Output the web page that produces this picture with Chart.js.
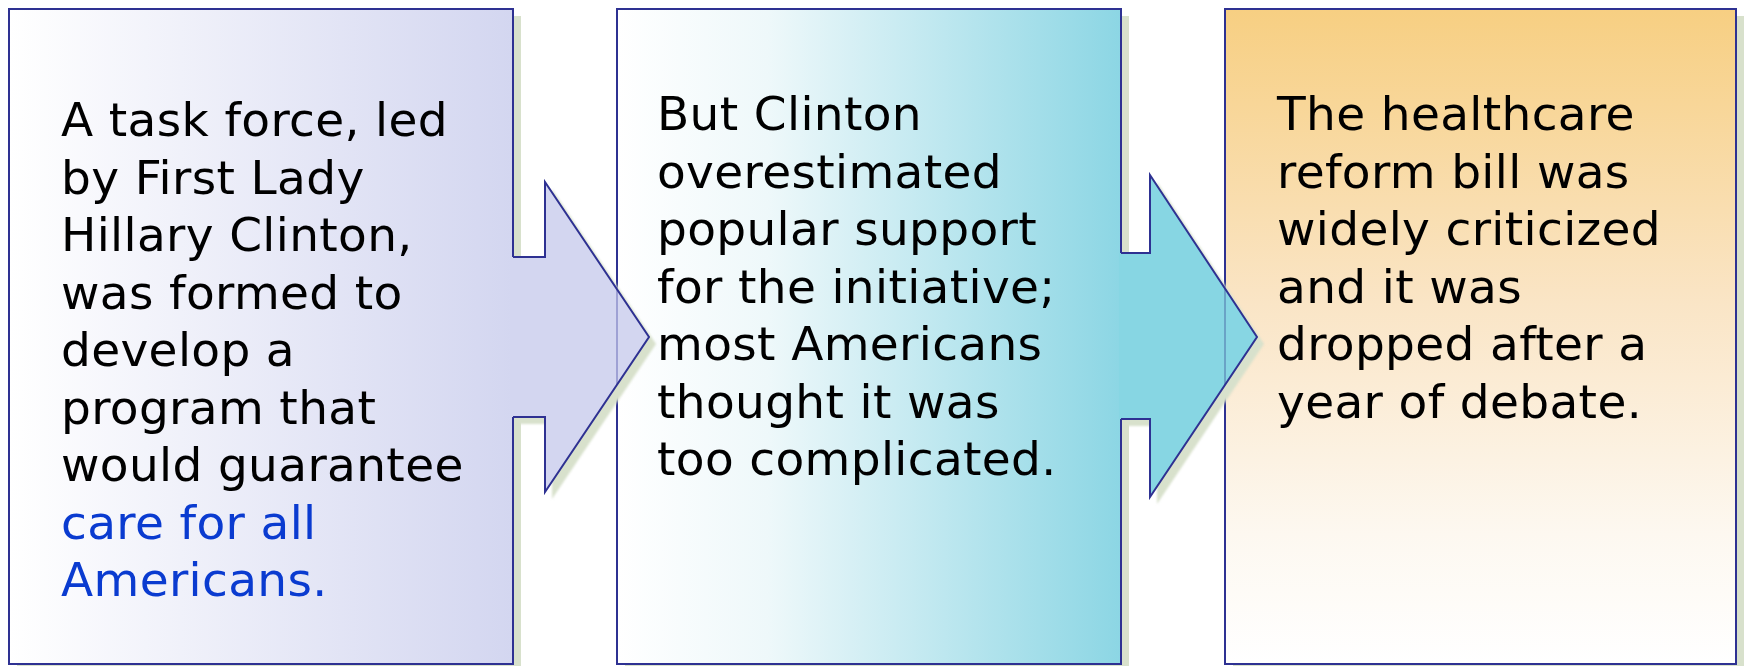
<!DOCTYPE html>
<html>
<head>
<meta charset="utf-8">
<script src="https://cdn.jsdelivr.net/npm/chart.js@4/dist/chart.umd.min.js"></script>
<style>
  html, body { margin: 0; padding: 0; background: #ffffff; }
  #wrap { width: 1745px; height: 666px; }
</style>
</head>
<body>
<div id="wrap"><canvas id="c" width="1745" height="666"></canvas></div>
<script>
// ---- Content (the "data" of this diagram) ----
const panelNames = ["Task force", "Overestimated support", "Bill dropped"];
const panel1Lines = ["A task force, led", "by First Lady", "Hillary Clinton,", "was formed to", "develop a", "program that", "would guarantee", "care for all", "Americans."];
const panel2Lines = ["But Clinton", "overestimated", "popular support", "for the initiative;", "most Americans", "thought it was", "too complicated."];
const panel3Lines = ["The healthcare", "reform bill was", "widely criticized", "and it was", "dropped after a", "year of debate."];
const panel1HighlightLines = [7, 8];

// ---- Layout (positions / sizes in diagram units = canvas pixels) ----
const layout = {
  width: 1745, height: 666,
  boxes: [
    { x0: 9, x1: 513, y0: 9, y1: 664, textX: 61, textY: 136 },
    { x0: 617, x1: 1121, y0: 9, y1: 664, textX: 657, textY: 130 },
    { x0: 1225, x1: 1736, y0: 9, y1: 664, textX: 1277, textY: 130 }
  ],
  arrows: [
    { base: 513, notch: 545, tip: 649, tipY: 337, headTop: 182, headBot: 492, shaftTop: 257, shaftBot: 417, under: 617 },
    { base: 1121, notch: 1150, tip: 1257, tipY: 337, headTop: 175, headBot: 497, shaftTop: 253, shaftBot: 419, under: 1225 }
  ],
  lineHeight: 57.5,
  font: '47px "DejaVu Sans"',
  letterSpacing: '0.35px',
  shadowDx: 8, shadowDy: 7
};

const styles = {
  border: '#2e3192',
  shadow: '#d8e1cc',
  text: '#000000',
  highlight: '#0a3bd0',
  arrowFill: ['#d3d6f0', '#87d6e3'],
  underLine: ['#9ea1d4', '#6aa3c6']
};

const panels = [panel1Lines, panel2Lines, panel3Lines];

function gradFor(ctx, i, X, Y, b) {
  let g;
  if (i === 0) {
    g = ctx.createLinearGradient(X(b.x0), 0, X(b.x1), 0);
    g.addColorStop(0, '#ffffff');
    g.addColorStop(1, '#d3d6f0');
  } else if (i === 1) {
    g = ctx.createLinearGradient(X(b.x0), 0, X(b.x1), 0);
    g.addColorStop(0, '#ffffff');
    g.addColorStop(0.3, '#eef8fa');
    g.addColorStop(1, '#8cd6e4');
  } else {
    g = ctx.createLinearGradient(0, Y(b.y0), 0, Y(b.y1));
    g.addColorStop(0, '#f7cf82');
    g.addColorStop(0.45, '#fae5c6');
    g.addColorStop(0.8, '#fdf8f0');
    g.addColorStop(1, '#ffffff');
  }
  return g;
}

function arrowPts(a, X, Y, dx, dy) {
  dx = dx || 0; dy = dy || 0;
  return [
    [X(a.base - 2) + dx, Y(a.shaftTop) + dy],
    [X(a.notch) + dx, Y(a.shaftTop) + dy],
    [X(a.notch) + dx, Y(a.headTop) + dy],
    [X(a.tip) + dx, Y(a.tipY) + dy],
    [X(a.notch) + dx, Y(a.headBot) + dy],
    [X(a.notch) + dx, Y(a.shaftBot) + dy],
    [X(a.base - 2) + dx, Y(a.shaftBot) + dy]
  ];
}

const diagramPlugin = {
  id: 'diagram',
  afterDraw(chart) {
    const ctx = chart.ctx;
    const xs = chart.scales.x, ys = chart.scales.y;
    const X = v => xs.getPixelForValue(v);
    const Y = v => ys.getPixelForValue(v);
    ctx.save();

    // box shadows
    ctx.fillStyle = styles.shadow;
    layout.boxes.forEach(b => {
      ctx.fillRect(X(b.x0) + layout.shadowDx, Y(b.y0) + layout.shadowDy, X(b.x1) - X(b.x0), Y(b.y1) - Y(b.y0));
    });

    // boxes
    layout.boxes.forEach((b, i) => {
      ctx.fillStyle = gradFor(ctx, i, X, Y, b);
      ctx.fillRect(X(b.x0), Y(b.y0), X(b.x1) - X(b.x0), Y(b.y1) - Y(b.y0));
      ctx.lineWidth = 2;
      ctx.strokeStyle = styles.border;
      ctx.strokeRect(X(b.x0), Y(b.y0), X(b.x1) - X(b.x0), Y(b.y1) - Y(b.y0));
    });

    // arrows
    layout.arrows.forEach((a, i) => {
      // shadow
      const sp = arrowPts(a, X, Y, 7, 7);
      ctx.save();
      ctx.filter = 'blur(1px)';
      ctx.fillStyle = styles.shadow;
      ctx.beginPath();
      sp.forEach((p, k) => k ? ctx.lineTo(p[0], p[1]) : ctx.moveTo(p[0], p[1]));
      ctx.closePath();
      ctx.fill();
      ctx.restore();

      const pts = arrowPts(a, X, Y);
      ctx.beginPath();
      pts.forEach((p, k) => k ? ctx.lineTo(p[0], p[1]) : ctx.moveTo(p[0], p[1]));
      ctx.closePath();
      ctx.fillStyle = styles.arrowFill[i];
      ctx.fill();

      // next box's border faintly visible through the arrow
      ctx.save();
      ctx.clip();
      ctx.strokeStyle = styles.underLine[i];
      ctx.lineWidth = 2;
      ctx.beginPath();
      ctx.moveTo(X(a.under), 0);
      ctx.lineTo(X(a.under), chart.height);
      ctx.stroke();
      ctx.restore();

      // outline (open at the base)
      ctx.beginPath();
      ctx.moveTo(X(a.base), Y(a.shaftTop));
      for (let k = 1; k < pts.length - 1; k++) ctx.lineTo(pts[k][0], pts[k][1]);
      ctx.lineTo(X(a.base), Y(a.shaftBot));
      ctx.strokeStyle = styles.border;
      ctx.lineWidth = 2;
      ctx.lineJoin = 'miter';
      ctx.stroke();
    });

    // texts
    ctx.font = layout.font;
    if ('letterSpacing' in ctx) ctx.letterSpacing = layout.letterSpacing;
    ctx.textBaseline = 'alphabetic';
    ctx.textAlign = 'left';
    panels.forEach((lines, i) => {
      const b = layout.boxes[i];
      lines.forEach((t, k) => {
        ctx.fillStyle = (i === 0 && panel1HighlightLines.includes(k)) ? styles.highlight : styles.text;
        ctx.fillText(t, X(b.textX), Y(b.textY + k * layout.lineHeight));
      });
    });
    ctx.restore();
  }
};

new Chart(document.getElementById('c'), {
  type: 'scatter',
  data: { datasets: [{ label: 'panels', data: [], pointRadius: 0 }] },
  options: {
    responsive: false,
    devicePixelRatio: 1,
    animation: false,
    layout: { padding: 0 },
    plugins: { legend: { display: false }, tooltip: { enabled: false }, title: { display: false } },
    scales: {
      x: { type: 'linear', min: 0, max: layout.width, display: false },
      y: { type: 'linear', min: 0, max: layout.height, reverse: true, display: false }
    }
  },
  plugins: [diagramPlugin]
});
</script>
</body>
</html>
